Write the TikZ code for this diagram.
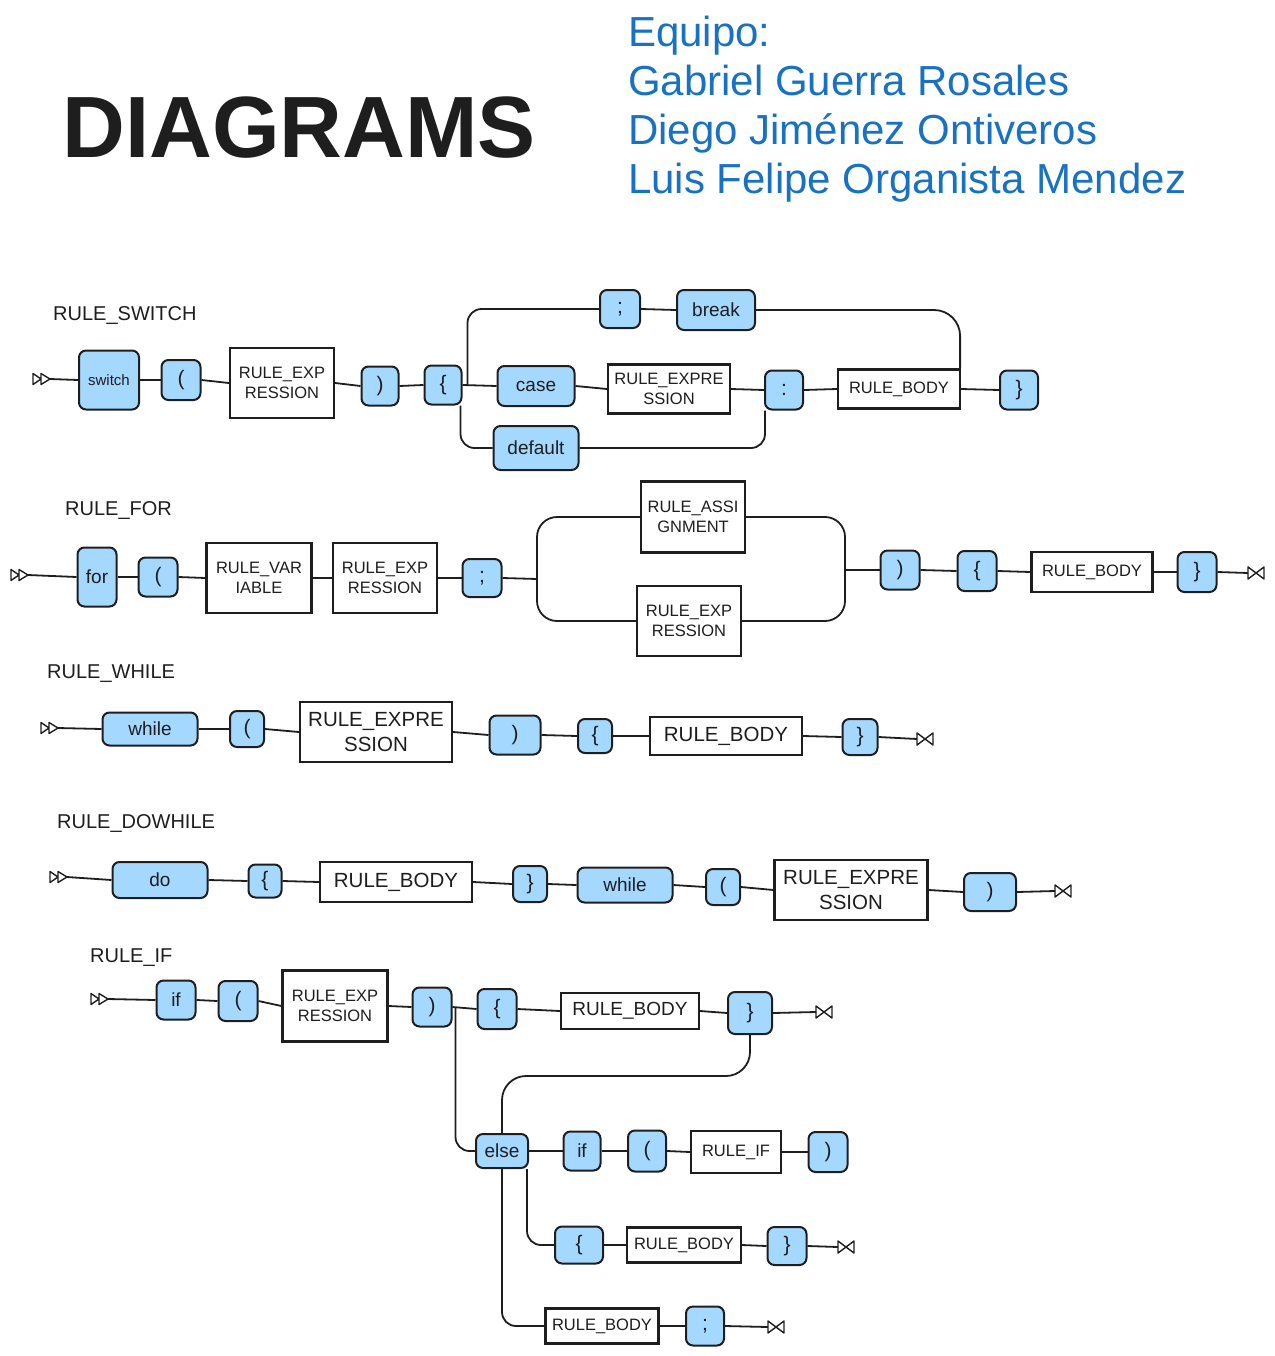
\documentclass[tikz,border=0pt]{standalone}
\usepackage{fontspec}
\setmainfont{Liberation Sans}
\definecolor{tblue}{HTML}{A5D8FF}
\definecolor{ink}{HTML}{1E1E1E}
\definecolor{teamblue}{HTML}{1971C2}
\tikzset{
  term/.style={draw=ink, fill=tblue, rounded corners=7pt, line width=2pt, inner sep=0pt, text=ink, font=\fontsize{21}{23}\selectfont},
  wordt/.style={font=\fontsize{19}{21}\selectfont},
  ntbox/.style={draw=ink, fill=white, line width=2.2pt, inner sep=0pt, align=center, text=ink, font=\fontsize{16.5}{20}\selectfont},
  bigtxt/.style={font=\fontsize{20.5}{25}\selectfont},
  sz/.style 2 args={minimum width=#1pt, minimum height=#2pt},
  conn/.style={draw=ink, line width=1.8pt, rounded corners=14pt},
  lbl/.style={font=\fontsize{20}{22}\selectfont, anchor=base west, text=ink, inner sep=0pt},
  team/.style={font=\fontsize{42}{48}\selectfont, anchor=base west, text=teamblue, inner sep=0pt},
  startm/.pic={\draw[ink, line width=1.4pt, line join=round] (-17,-5.5) -- (-9,0) -- (-17,5.5) -- cycle (-9,-5.5) -- (0,0) -- (-9,5.5) -- cycle;},
  endm/.pic={\draw[ink, line width=1.4pt, line join=round] (0,-6) -- (0,6) -- (16,-6) -- (16,6) -- cycle;}
}
\begin{document}
\begin{tikzpicture}[x=1pt,y=-1pt]
\useasboundingbox (0,0) rectangle (1274,1356);
% title and team
\node[anchor=base west, inner sep=0pt, text=ink, font=\fontsize{87}{90}\selectfont\bfseries] (title) at (62,158) {DIAGRAMS};
\node[team] (t1) at (628,47) {Equipo:};
\node[team] (t2) at (628,96) {Gabriel Guerra Rosales};
\node[team] (t3) at (628,145) {Diego Jiménez Ontiveros};
\node[team] (t4) at (628,194) {Luis Felipe Organista Mendez};

% ---------------- RULE_SWITCH
\node[lbl] (lsw) at (53,320) {RULE\_SWITCH};
\coordinate (s1) at (50,379);
\pic at (s1) {startm};
\node[term, sz={60}{59}, font=\fontsize{15}{18}\selectfont] (sw) at (109,380) {switch};
\node[term, sz={39}{40}] (slp) at (181,380) {(};
\node[ntbox, sz={104}{70}] (sre) at (282,383) {RULE\_EXP\\RESSION};
\node[term, sz={37}{39}] (srp) at (380,386) {)};
\node[term, sz={37}{39}] (slb) at (443,385) {\{};
\node[term, sz={40}{38}] (ssemi) at (620,309) {;};
\node[term, wordt, sz={78}{40}] (sbrk) at (716,310) {break};
\node[term, wordt, sz={77}{40}] (scase) at (536,386) {case};
\node[ntbox, sz={122}{49}] (sre2) at (669,389) {RULE\_EXPRE\\SSION};
\node[term, sz={38}{39}] (scol) at (784,390) {:};
\node[ntbox, sz={122}{39}] (srb) at (899,389) {RULE\_BODY};
\node[term, sz={38}{39}] (srb2) at (1019,390) {\}};
\node[term, wordt, sz={85}{44}] (sdef) at (536,448) {default};
\draw[conn] (s1) -- (sw.west);
\foreach \a/\b in {sw/slp, slp/sre, sre/srp, srp/slb, slb/scase, scase/sre2, sre2/scol, scol/srb, srb/srb2, ssemi/sbrk}
  \draw[conn] (\a.east) -- (\b.west);
\draw[conn] ([xshift=5pt]slb.east) |- (ssemi.west);
\draw[conn, rounded corners=26pt] (sbrk.east) -| ([xshift=-1pt]srb.north east);
\draw[conn] ([xshift=-2pt]slb.south east) |- (sdef.west);
\draw[conn] (sdef.east) -| ([xshift=1pt]scol.south west);

% ---------------- RULE_FOR
\node[lbl] (lfor) at (65,515) {RULE\_FOR};
\coordinate (s2) at (28,575);
\pic at (s2) {startm};
\node[term, wordt, sz={39}{59}] (ffor) at (97,577) {for};
\node[term, sz={39}{39}] (flp) at (158,577) {(};
\node[ntbox, sz={105}{70}] (fvar) at (259,578) {RULE\_VAR\\IABLE};
\node[ntbox, sz={104}{70}] (fexp) at (385,578) {RULE\_EXP\\RESSION};
\node[term, sz={39}{38}] (fsemi) at (482,578) {;};
\node[ntbox, sz={104}{71}] (fasg) at (693,517) {RULE\_ASSI\\GNMENT};
\node[ntbox, sz={104}{70}] (fexp2) at (689,621) {RULE\_EXP\\RESSION};
\node[term, sz={39}{39}] (frp) at (900,570) {)};
\node[term, sz={39}{40}] (flb) at (977,571) {\{};
\node[ntbox, sz={121}{40}] (fbody) at (1092,572) {RULE\_BODY};
\node[term, sz={39}{40}] (frb) at (1197,572) {\}};
\coordinate (jL) at (537,579);
\coordinate (jR) at (845,570);
\coordinate (e2) at (1248,573);
\draw[conn] (s2) -- (ffor.west);
\foreach \a/\b in {ffor/flp, flp/fvar, fvar/fexp, fexp/fsemi, frp/flb, flb/fbody, fbody/frb}
  \draw[conn] (\a.east) -- (\b.west);
\draw[conn] (fsemi.east) -- (jL);
\draw[conn, rounded corners=20pt] (fasg.west) -| (jL) |- (fexp2.west);
\draw[conn, rounded corners=20pt] (fasg.east) -| (jR) |- (fexp2.east);
\draw[conn] (jR) -- (frp.west);
\draw[conn] (frb.east) -- (e2);
\pic at (e2) {endm};

% ---------------- RULE_WHILE
\node[lbl] (lwh) at (47,678) {RULE\_WHILE};
\coordinate (s3) at (58,728);
\pic at (s3) {startm};
\node[term, wordt, sz={95}{33}] (wwhile) at (150,729) {while};
\node[term, sz={34}{36}] (wlp) at (247,729) {(};
\node[ntbox, bigtxt, sz={152}{60}] (wexp) at (376,732) {RULE\_EXPRE\\SSION};
\node[term, sz={51}{39}] (wrp) at (515,735) {)};
\node[term, sz={34}{34}] (wlb) at (595,736) {\{};
\node[ntbox, bigtxt, sz={152}{38}] (wbody) at (726,736) {RULE\_BODY};
\node[term, sz={35}{36}] (wrb) at (860,737) {\}};
\coordinate (e3) at (917,739);
\draw[conn] (s3) -- (wwhile.west);
\foreach \a/\b in {wwhile/wlp, wlp/wexp, wexp/wrp, wrp/wlb, wlb/wbody, wbody/wrb}
  \draw[conn] (\a.east) -- (\b.west);
\draw[conn] (wrb.east) -- (e3);
\pic at (e3) {endm};

% ---------------- RULE_DOWHILE
\node[lbl] (ldw) at (57,828) {RULE\_DOWHILE};
\coordinate (s4) at (67,877);
\pic at (s4) {startm};
\node[term, wordt, sz={95}{36}] (ddo) at (160,880) {do};
\node[term, sz={33}{33}] (dlb) at (265,881) {\{};
\node[ntbox, bigtxt, sz={152}{40}] (dbody) at (396,882) {RULE\_BODY};
\node[term, sz={34}{36}] (drb) at (530,884) {\}};
\node[term, wordt, sz={95}{35}] (dwhile) at (625,885) {while};
\node[term, sz={34}{36}] (dlp) at (723,887) {(};
\node[ntbox, bigtxt, sz={153}{60}] (dexp) at (851,890) {RULE\_EXPRE\\SSION};
\node[term, sz={52}{38}] (drp) at (990,892) {)};
\coordinate (e4) at (1055,891);
\draw[conn] (s4) -- (ddo.west);
\foreach \a/\b in {ddo/dlb, dlb/dbody, dbody/drb, drb/dwhile, dwhile/dlp, dlp/dexp, dexp/drp}
  \draw[conn] (\a.east) -- (\b.west);
\draw[conn] (drp.east) -- (e4);
\pic at (e4) {endm};

% ---------------- RULE_IF
\node[lbl] (lif) at (90,962) {RULE\_IF};
\coordinate (s5) at (108,999);
\pic at (s5) {startm};
\node[term, wordt, sz={39}{39}] (iif) at (176,1000) {if};
\node[term, sz={39}{40}] (ilp) at (238,1001) {(};
\node[ntbox, sz={105}{71}] (iexp) at (335,1006) {RULE\_EXP\\RESSION};
\node[term, sz={39}{39}] (irp) at (432,1007) {)};
\node[term, sz={39}{40}] (ilb) at (497,1009) {\{};
\node[ntbox, font=\fontsize{19}{21}\selectfont, sz={138}{36}] (ibody) at (630,1011) {RULE\_BODY};
\node[term, sz={44}{42}] (irb) at (750,1013) {\}};
\coordinate (e5) at (816,1012);
\node[term, wordt, sz={52}{34}] (ielse) at (502,1151) {else};
\node[term, wordt, sz={37}{39}] (iif2) at (582,1151) {if};
\node[term, sz={38}{41}] (ilp2) at (647,1151) {(};
\node[ntbox, sz={90}{42}] (irule) at (736,1152) {RULE\_IF};
\node[term, sz={39}{40}] (irp2) at (828,1152) {)};
\node[term, sz={48}{37}] (ilb3) at (579,1245) {\{};
\node[ntbox, sz={114}{35}] (ibody3) at (684,1245) {RULE\_BODY};
\node[term, sz={39}{38}] (irb3) at (787,1246) {\}};
\coordinate (e6) at (838,1247);
\node[ntbox, sz={113}{35}] (ibody4) at (602,1326) {RULE\_BODY};
\node[term, sz={38}{39}] (isemi) at (705,1326) {;};
\coordinate (e7) at (768,1327);
\coordinate (imid) at (620,1076);
\draw[conn] (s5) -- (iif.west);
\foreach \a/\b in {iif/ilp, ilp/iexp, iexp/irp, irp/ilb, ilb/ibody, ibody/irb, ielse/iif2, iif2/ilp2, ilp2/irule, irule/irp2, ilb3/ibody3, ibody3/irb3, ibody4/isemi}
  \draw[conn] (\a.east) -- (\b.west);
\draw[conn] (irb.east) -- (e5);
\pic at (e5) {endm};
\draw[conn] (irb3.east) -- (e6);
\pic at (e6) {endm};
\draw[conn] (isemi.east) -- (e7);
\pic at (e7) {endm};
\draw[conn, rounded corners=24pt] (irb.south) |- (imid) -| (ielse.north);
\draw[conn] ([xshift=3pt]irp.east) |- (ielse.west);
\draw[conn] ([xshift=-2pt]ielse.south east) |- (ilb3.west);
\draw[conn] (ielse.south) |- (ibody4.west);
\end{tikzpicture}
\end{document}
